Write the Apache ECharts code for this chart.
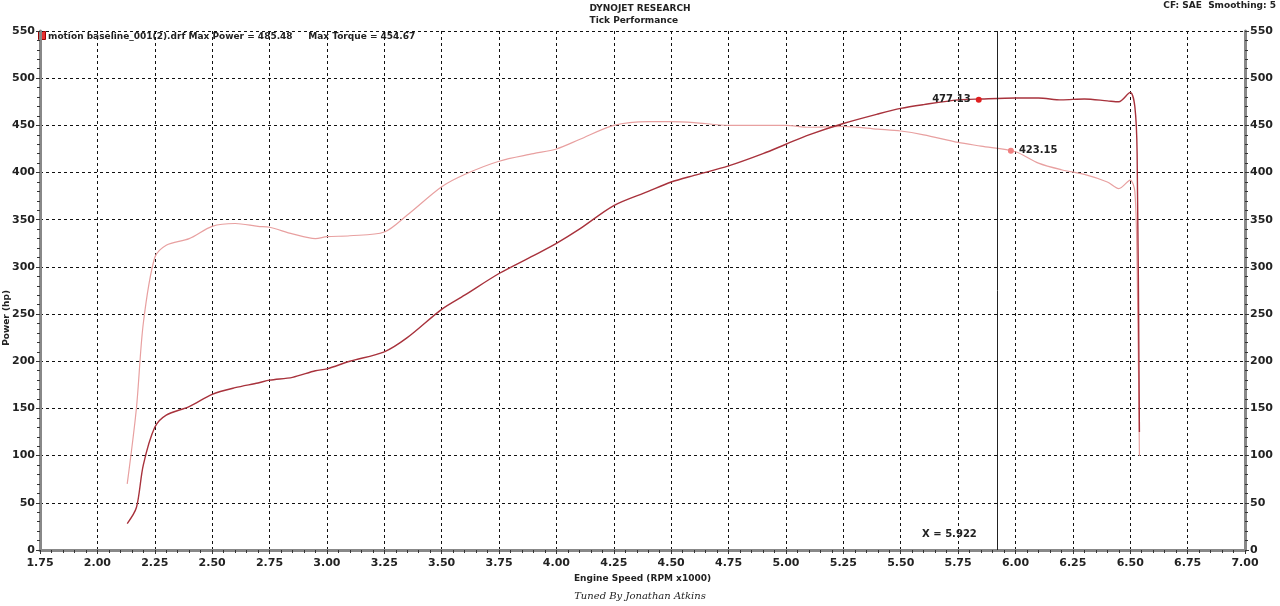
<!DOCTYPE html><html><head><meta charset="utf-8"><script src="https://cdn.jsdelivr.net/npm/echarts@6/dist/echarts.min.js"></script>
<style>html,body{margin:0;background:#fff}#c{width:1280px;height:606px}</style></head><body><div id="c"></div><script>
const rpm = [2.13,2.17,2.2,2.25,2.3,2.4,2.5,2.6,2.7,2.75,2.85,2.95,3.0,3.1,3.25,3.35,3.5,3.6,3.75,3.9,4.0,4.1,4.25,4.4,4.5,4.6,4.75,4.9,5.0,5.1,5.25,5.4,5.5,5.6,5.75,5.85,6.0,6.1,6.2,6.3,6.4,6.45,6.5,6.52,6.53,6.54];
const power = [28,45,90,130,143,152,165,172,177,180,183,190,192,200,210,225,255,270,293,312,325,340,365,380,390,397,407,420,430,440,452,462,468,472,477,478,479,479,477,478,476,475,485,470,420,125];
const torque = [70,150,240,310,323,330,343,346,343,342,335,330,332,333,337,355,385,398,412,420,425,435,450,454,454,453,450,450,450,448,449,446,444,440,432,428,422,410,403,398,390,383,392,380,300,100];
const xTicks = [1.75,2.0,2.25,2.5,2.75,3.0,3.25,3.5,3.75,4.0,4.25,4.5,4.75,5.0,5.25,5.5,5.75,6.0,6.25,6.5,6.75,7.0];
const cursorX = 5.922;
const markPower = [5.84,477.13];
const markTorque = [5.98,423.15];
const pts = a => rpm.map((x,i)=>[x,a[i]]);
const ch = echarts.init(document.getElementById('c'));
const F = 'Verdana, "DejaVu Sans", sans-serif';
const yAx = (pos,name)=>({type:'value',min:0,max:550,interval:50,position:pos,name:name,nameLocation:'middle',nameGap:pos==='left'?30:24,nameRotate:pos==='left'?90:-90,
 nameTextStyle:{fontFamily:F,fontSize:9,fontWeight:'bold',color:'#222'},
 axisLine:{show:true,lineStyle:{color:'#888',width:3}},axisTick:{show:true,length:4,lineStyle:{color:'#333'}},minorTick:{show:true,splitNumber:5,length:3,lineStyle:{color:'#333'}},
 axisLabel:{fontFamily:F,fontSize:11,fontWeight:'bold',color:'#222',margin:5},
 splitLine:{show:pos==='left',lineStyle:{type:[3,3],color:'#111',width:1}}});
ch.setOption({
 animation:false,
 grid:{left:40,right:35,top:31,bottom:56,containLabel:false,outerBoundsMode:'none'},
 graphic:[
  {type:'text',left:'center',top:3,style:{text:'DYNOJET RESEARCH\nTick Performance',fontFamily:F,fontSize:9,fontWeight:'bold',fill:'#222',align:'center',lineHeight:12}},
  {type:'text',right:4,top:1,style:{text:'CF: SAE  Smoothing: 5',fontFamily:F,fontSize:9,fontWeight:'bold',fill:'#222'}},
  {type:'text',left:2,top:290,rotation:Math.PI/2,style:{text:'Power (hp)',fontFamily:F,fontSize:9,fontWeight:'bold',fill:'#222',align:'center',verticalAlign:'middle'}},
  {type:'rect',left:38,top:31,shape:{width:7,height:8},style:{fill:'#e83030',stroke:'#900'}},
  {type:'text',left:48,top:32,style:{text:'motion baseline_001(2).drf Max Power = 485.48     Max Torque = 454.67',fontFamily:F,fontSize:9,fontWeight:'bold',fill:'#222'}},
  {type:'text',left:'center',top:591,style:{text:'Tuned By Jonathan Atkins',fontFamily:'"DejaVu Serif", serif',fontStyle:'italic',fontSize:10,fill:'#222'}}
 ],
 xAxis:{type:'value',min:1.75,max:7.0,interval:0.25,name:'Engine Speed (RPM x1000)',nameLocation:'middle',nameGap:22,
  nameTextStyle:{fontFamily:F,fontSize:9,fontWeight:'bold',color:'#222'},
  axisLine:{lineStyle:{color:'#888',width:3}},axisTick:{length:4,lineStyle:{color:'#333'}},minorTick:{show:true,splitNumber:5,length:3,lineStyle:{color:'#333'}},
  axisLabel:{fontFamily:F,fontSize:11,fontWeight:'bold',color:'#222',formatter:v=>v.toFixed(2)},
  splitLine:{show:true,lineStyle:{type:[3,3],color:'#111',width:1}}},
 yAxis:[Object.assign(yAx('left',''),{name:''}),yAx('right','Torque (ft-lbs)')],
 series:[
  {type:'line',data:pts(torque),yAxisIndex:1,symbol:'none',smooth:0.3,lineStyle:{color:'#e8a0a0',width:1.2},z:3,
   markPoint:{symbol:'circle',symbolSize:6,itemStyle:{color:'#f08080'},data:[{coord:markTorque,label:{show:true,position:'right',formatter:'423.15',fontFamily:F,fontSize:10,fontWeight:'bold',color:'#222'}}]}},
  {type:'line',data:pts(power),symbol:'none',smooth:0.3,lineStyle:{color:'#a8323c',width:1.4},z:4,
   markPoint:{symbol:'circle',symbolSize:6,itemStyle:{color:'#e02020'},data:[{coord:markPower,label:{show:true,position:'left',formatter:'477.13',fontFamily:F,fontSize:10,fontWeight:'bold',color:'#222'}}]},
   markLine:{symbol:'none',silent:true,lineStyle:{color:'#222',type:'solid',width:1},label:{show:true,position:'insideStartTop',formatter:'X = 5.922',fontFamily:F,fontSize:10,fontWeight:'bold',color:'#222',rotate:0,offset:[-80,-6]},data:[{xAxis:cursorX}]}}
 ]
});
</script></body></html>
